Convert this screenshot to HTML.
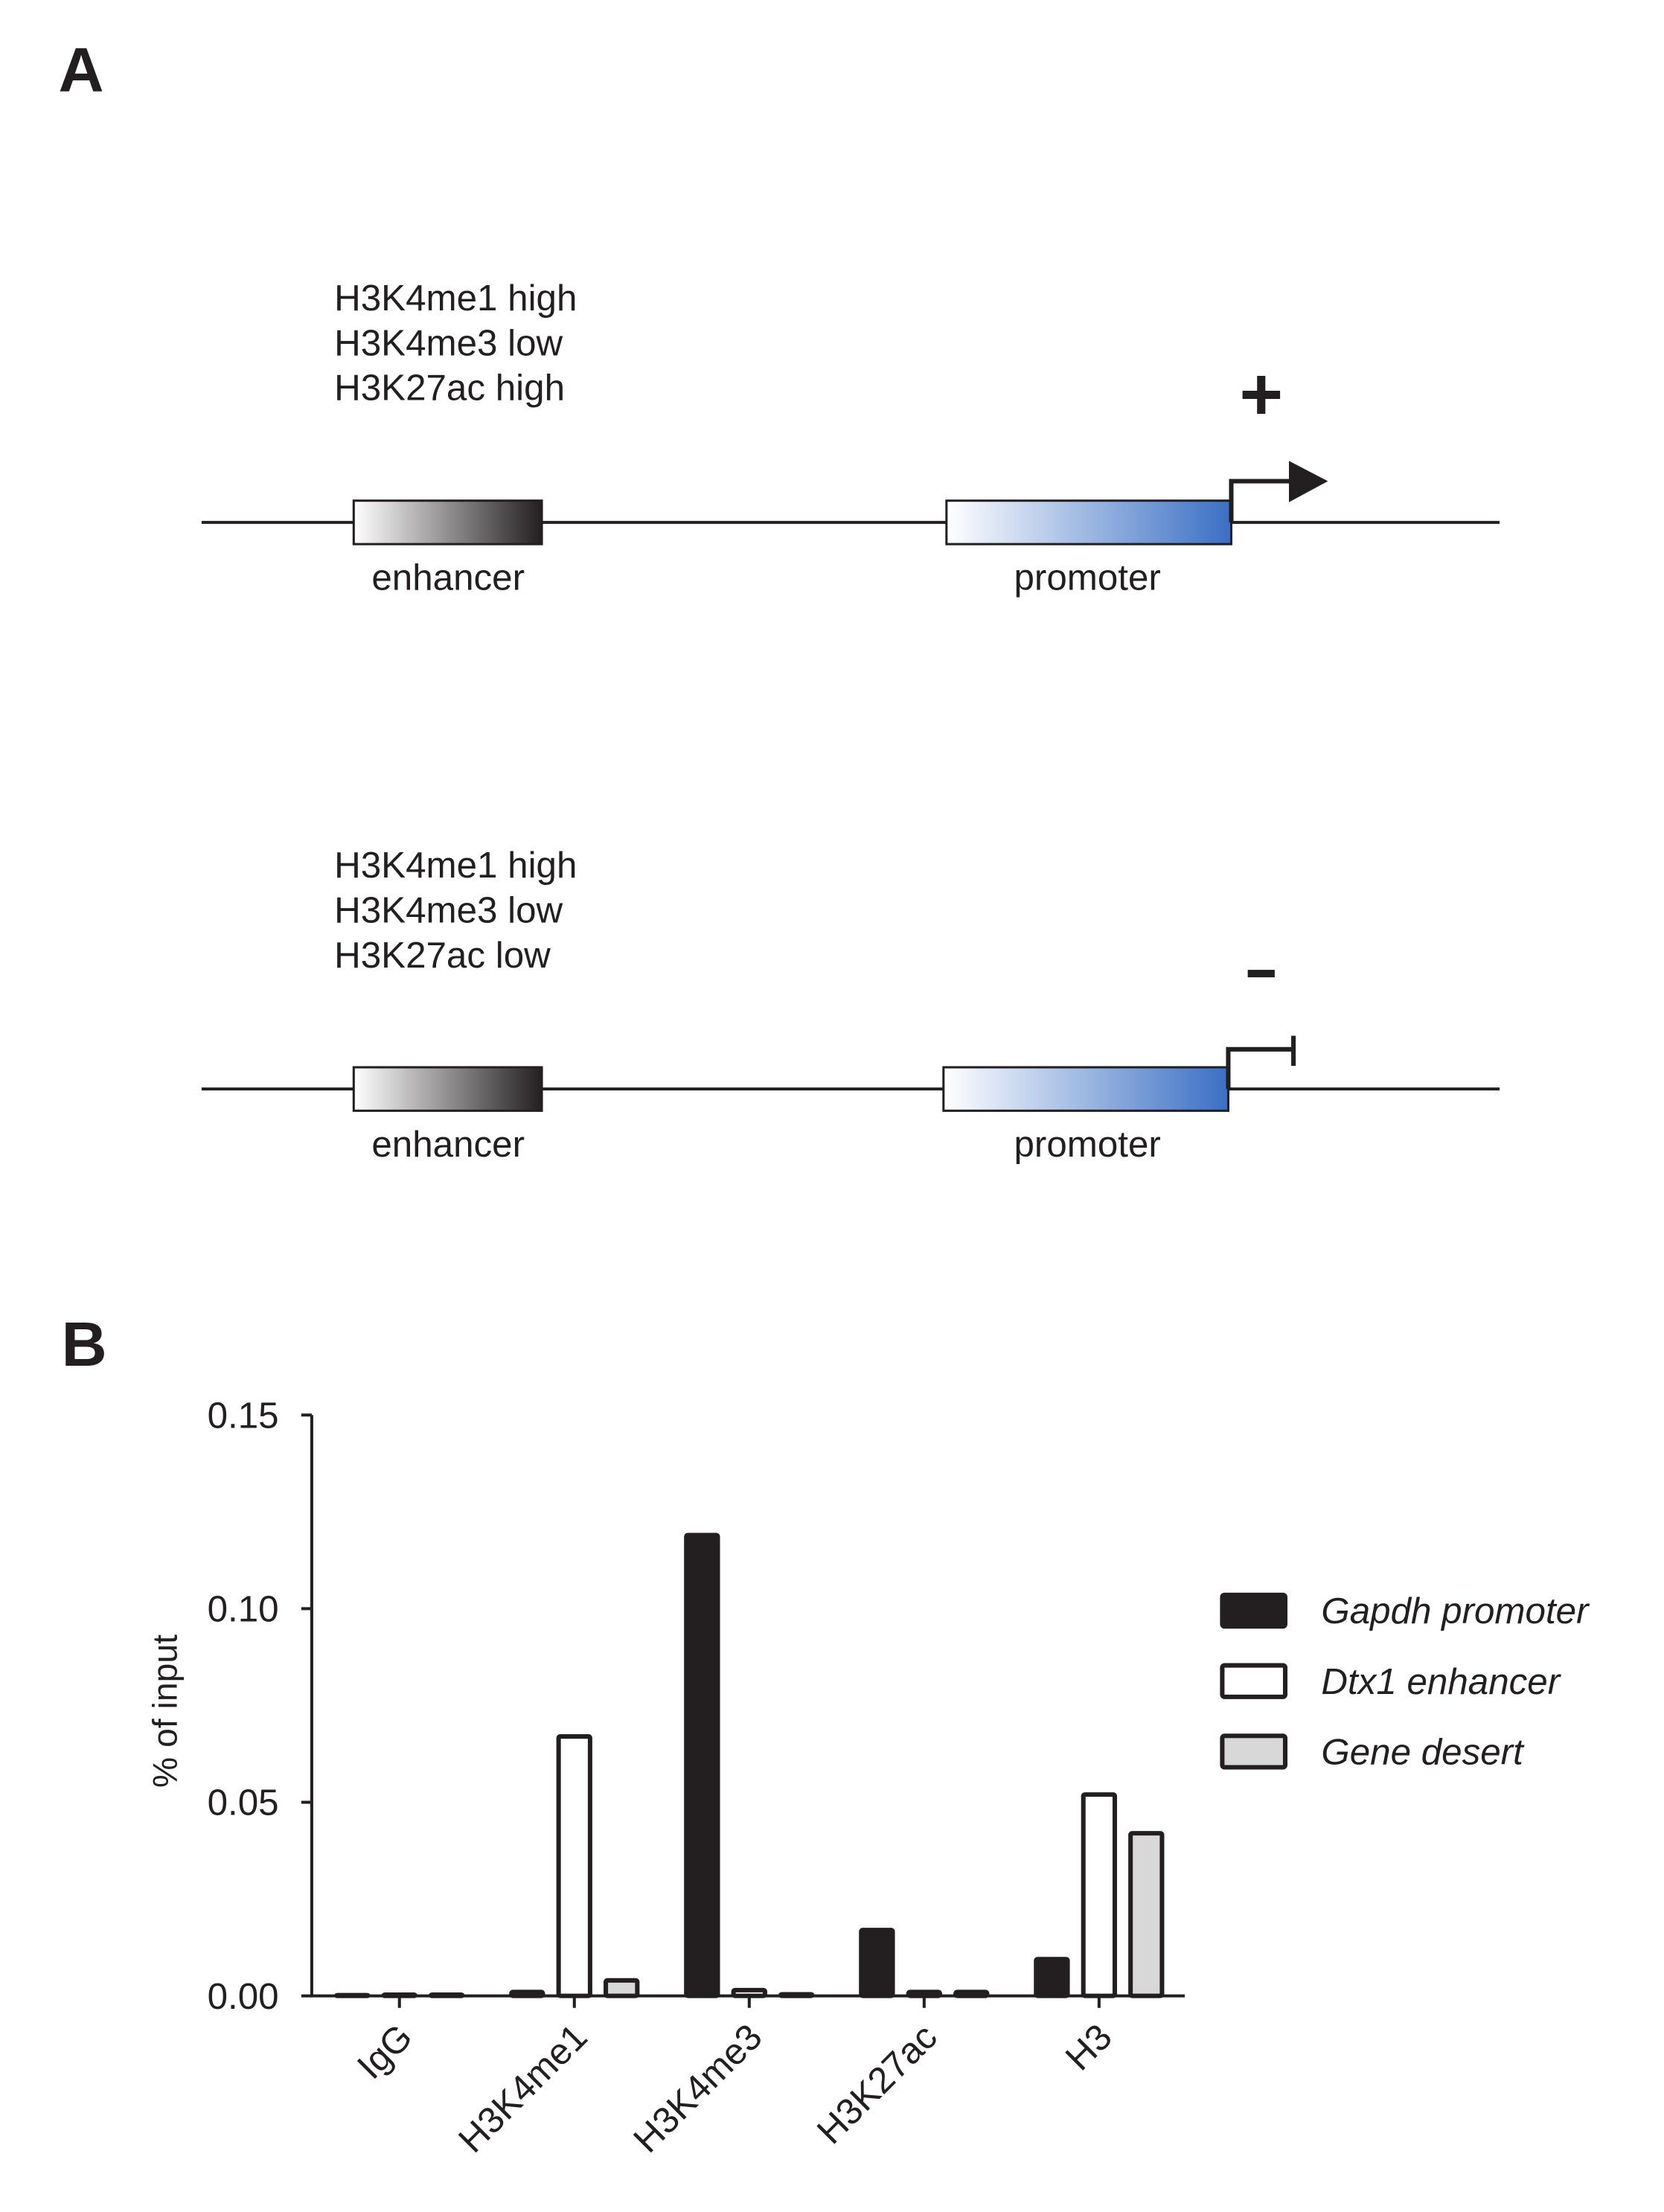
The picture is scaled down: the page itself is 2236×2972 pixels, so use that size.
<!DOCTYPE html>
<html><head><meta charset="utf-8"><style>
body{margin:0;background:#fff}
svg{display:block;font-family:"Liberation Sans",Arial,sans-serif}
</style></head><body>
<svg width="2236" height="2972" viewBox="0 0 2236 2972">
<defs>
<linearGradient id="gE" x1="0" x2="1"><stop offset="0" stop-color="#fff"/><stop offset="1" stop-color="#231f20"/></linearGradient>
<linearGradient id="gP" x1="0" x2="1"><stop offset="0" stop-color="#fff"/><stop offset="1" stop-color="#3a6fc4"/></linearGradient>
</defs>
<g transform="scale(1.007)">
<text x="78" y="122" font-size="84" font-weight="bold" fill="#231f20">A</text>
<g fill="#231f20">
<g font-size="49">
<text x="446" y="414">H3K4me1 high</text><text x="446" y="474">H3K4me3 low</text><text x="446" y="534">H3K27ac high</text></g>
<line x1="269" y1="697" x2="2001" y2="697" stroke="#231f20" stroke-width="4"/>
<rect x="472" y="668" width="251" height="58" fill="url(#gE)" stroke="#231f20" stroke-width="3"/>
<rect x="1263" y="668" width="380" height="58" fill="url(#gP)" stroke="#231f20" stroke-width="3"/>
<polyline points="1643,697 1643,642 1724,642" fill="none" stroke="#231f20" stroke-width="6"/>
<polygon points="1720,615 1772,642 1720,670"/>
<text x="1683" y="560" font-size="100" text-anchor="middle" font-weight="bold">+</text>
<text x="598" y="787" font-size="49" text-anchor="middle">enhancer</text>
<text x="1451" y="787" font-size="49" text-anchor="middle">promoter</text>
</g>
<g fill="#231f20">
<g font-size="49"><text x="446" y="1171">H3K4me1 high</text><text x="446" y="1231">H3K4me3 low</text><text x="446" y="1291">H3K27ac low</text></g>
<line x1="269" y1="1453" x2="2001" y2="1453" stroke="#231f20" stroke-width="4"/>
<rect x="472" y="1424" width="251" height="58" fill="url(#gE)" stroke="#231f20" stroke-width="3"/>
<rect x="1259" y="1424" width="380" height="58" fill="url(#gP)" stroke="#231f20" stroke-width="3"/>
<polyline points="1639,1453 1639,1400 1726,1400" fill="none" stroke="#231f20" stroke-width="6"/>
<line x1="1726" y1="1382" x2="1726" y2="1422" stroke="#231f20" stroke-width="6"/>
<rect x="1665" y="1294" width="36" height="10"/>
<text x="598" y="1543" font-size="49" text-anchor="middle">enhancer</text>
<text x="1451" y="1543" font-size="49" text-anchor="middle">promoter</text>
</g>
<text x="82" y="1822" font-size="84" font-weight="bold" fill="#231f20">B</text>
<g id="chart"></g>
</g>
</svg>
<script>
const categories=["IgG","H3K4me1","H3K4me3","H3K27ac","H3"];
const gapdh=[0.0002,0.001,0.119,0.017,0.0095];
const dtx1=[0.0003,0.067,0.0015,0.001,0.052];
const desert=[0.0003,0.004,0.0004,0.001,0.042];
const yTicks=[0,0.05,0.10,0.15];
const yTickLabels=["0.00","0.05","0.10","0.15"];
const seriesNames=["Gapdh promoter","Dtx1 enhancer","Gene desert"];
const NS="http://www.w3.org/2000/svg";
const g=document.getElementById('chart');
const X0=416,X1=1581,Y0=2663,Y1=1888,step=233.4,first=533;
const y=v=>Y0-(v/0.15)*(Y0-Y1);
const x=i=>first+i*step;
function mk(t,a){const e=document.createElementNS(NS,t);for(const k in a)e.setAttribute(k,a[k]);g.appendChild(e);return e;}
const series=[gapdh,dtx1,desert],fills=["#231f20","#fff","#d8d8d8"];
series.forEach((s,si)=>s.forEach((v,i)=>{
 const cx=x(i)+(si-1)*63,h=Math.max(Y0-y(v),1);
 const r=mk('rect',{x:cx-21,y:Y0-h,width:42,height:h,fill:fills[si],stroke:"#231f20","stroke-width":6,rx:2});
 
 
}));
let ax=mk('polyline',{points:`${X0},${Y1} ${X0},${Y0} ${X1},${Y0}`,fill:"none",stroke:"#231f20","stroke-width":4});


yTicks.forEach((t,i)=>{
 mk('line',{x1:X0-14,x2:X0,y1:y(t),y2:y(t),stroke:"#231f20","stroke-width":4});
 const tx=mk('text',{x:X0-44,y:y(t)+17,"font-size":49,"text-anchor":"end",fill:"#231f20"});
 tx.textContent=yTickLabels[i];
 
 
});
categories.forEach((c,i)=>{
 mk('line',{x1:x(i),x2:x(i),y1:Y0,y2:Y0+16,stroke:"#231f20","stroke-width":4});
 const tx=mk('text',{x:x(i)+20,y:Y0+58,"font-size":49,"text-anchor":"end",fill:"#231f20",transform:`rotate(-45 ${x(i)+20} ${Y0+58})`});
 tx.textContent=c;
 
 
});
const yl=mk('text',{x:236,y:2283,"font-size":46,"text-anchor":"middle",fill:"#231f20",transform:"rotate(-90 236 2283)"});
yl.textContent="% of input";


seriesNames.forEach((n,i)=>{
 const cy=2149+i*94;
 const r=mk('rect',{x:1631,y:cy-21,width:84,height:42,fill:fills[i],stroke:"#231f20","stroke-width":6,rx:3});
 
 
 const t=mk('text',{x:1763,y:cy+17,"font-size":49,"font-style":"italic",fill:"#231f20"});
 t.textContent=n;
 
 
});
</script>
</body></html>
